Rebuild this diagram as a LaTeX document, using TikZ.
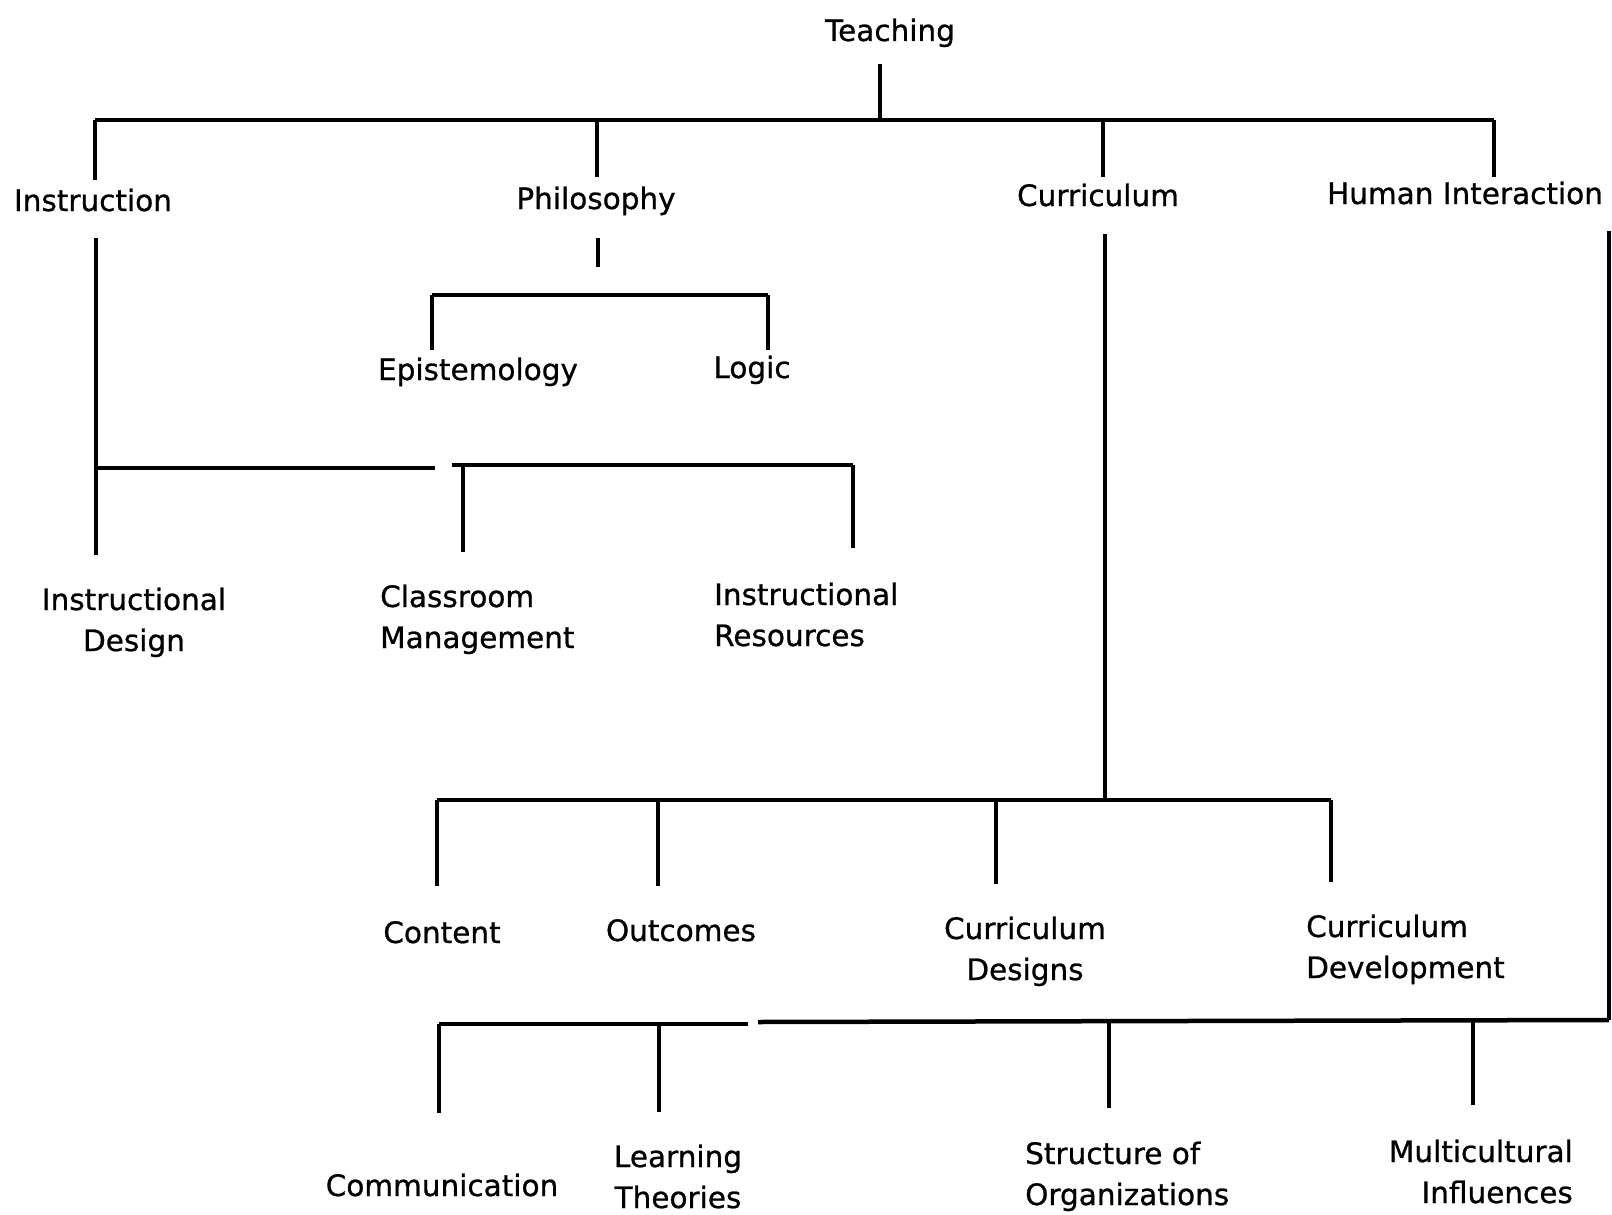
\documentclass[tikz,border=0pt]{standalone}
\usepackage{fontspec}
\setmainfont{DejaVu Sans}
\newfontfamily\lblfont[RawFeature={embolden=0.8}]{DejaVu Sans}
\begin{document}
\begin{tikzpicture}[x=1pt,y=-1pt,
  lbl/.style={inner sep=0pt, font=\lblfont\fontsize{29.5}{41}\selectfont},
  vline/.style={line width=3.2pt},
  hbar/.style={line width=4.5pt}]
\useasboundingbox (0,0) rectangle (1612,1215);
% labels (for two-line labels the base anchor is the last line's baseline)
\node[lbl,anchor=base] (teach) at (890,41) {Teaching};
\node[lbl,anchor=base] (instr) at (93,211) {Instruction};
\node[lbl,anchor=base] (phil) at (596,209) {Philosophy};
\node[lbl,anchor=base] (curr) at (1098,206) {Curriculum};
\node[lbl,anchor=base] (human) at (1465,204) {Human Interaction};
\node[lbl,anchor=base] (epi) at (478,380) {Epistemology};
\node[lbl,anchor=base] (logic) at (752,378) {Logic};
\node[lbl,anchor=base,align=center] (idesign) at (134,651) {Instructional\\Design};
\node[lbl,anchor=base west,align=left] (cman) at (380,648) {Classroom\\Management};
\node[lbl,anchor=base west,align=left] (ires) at (714,646) {Instructional\\Resources};
\node[lbl,anchor=base] (content) at (442,943) {Content};
\node[lbl,anchor=base] (outc) at (681,941) {Outcomes};
\node[lbl,anchor=base,align=center] (cdes) at (1025,980) {Curriculum\\Designs};
\node[lbl,anchor=base west,align=left] (cdev) at (1306,978) {Curriculum\\Development};
\node[lbl,anchor=base] (comm) at (442,1196) {Communication};
\node[lbl,anchor=base,align=center] (learn) at (678,1208) {Learning\\Theories};
\node[lbl,anchor=base west,align=left] (struct) at (1025,1205) {Structure of\\Organizations};
\node[lbl,anchor=base east,align=right] (multi) at (1573,1203) {Multicultural\\Influences};
% connector points
\coordinate (tT) at (880,64);
\coordinate (tB) at (880,120);
\coordinate (barL) at (95,120);
\coordinate (barR) at (1494,120);
\coordinate (iTop) at (95,180);
\coordinate (pTopA) at (597,120);
\coordinate (pTop) at (597,177);
\coordinate (cTopA) at (1103,120);
\coordinate (cTop) at (1103,177);
\coordinate (hTop) at (1494,177);
\coordinate (iS) at (96,238);
\coordinate (iE) at (96,555);
\coordinate (iJ) at (96,468);
\coordinate (iGapL) at (435,468);
\coordinate (iGapR) at (452,465);
\coordinate (cmA) at (463,465);
\coordinate (cmB) at (463,552);
\coordinate (irA) at (853,465);
\coordinate (irB) at (853,548);
\coordinate (pS) at (598,238);
\coordinate (pE) at (598,267);
\coordinate (epA) at (432,295);
\coordinate (epB) at (432,350);
\coordinate (lgA) at (768,295);
\coordinate (lgB) at (768,350);
\coordinate (cS) at (1105,234);
\coordinate (cE) at (1105,800);
\coordinate (coA) at (437,800);
\coordinate (coB) at (437,886);
\coordinate (ouA) at (658,800);
\coordinate (ouB) at (658,886);
\coordinate (cdA) at (996,800);
\coordinate (cdB) at (996,884);
\coordinate (cvA) at (1331,800);
\coordinate (cvB) at (1331,882);
\coordinate (hS) at (1609,231);
\coordinate (hE) at (1609,1020);
\coordinate (hGapR) at (758,1022);
\coordinate (hGapL) at (748,1024);
\coordinate (cmmA) at (439,1024);
\coordinate (cmmB) at (439,1113);
\coordinate (leA) at (659,1024);
\coordinate (leB) at (659,1112);
\coordinate (stA) at (1109,1021);
\coordinate (stB) at (1109,1108);
\coordinate (muA) at (1473,1021);
\coordinate (muB) at (1473,1105);
% top level
\draw[vline] (tT) -- (tB);
\draw[hbar] (barL) -- (barR);
\draw[vline] (barL) -- (iTop);
\draw[vline] (pTopA) -- (pTop);
\draw[vline] (cTopA) -- (cTop);
\draw[vline] (barR) -- (hTop);
% philosophy
\draw[vline] (pS) -- (pE);
\draw[hbar] (epA) -- (lgA);
\draw[vline] (epB) -- (epA);
\draw[vline] (lgA) -- (lgB);
% instruction
\draw[vline] (iS) -- (iE);
\draw[hbar] (iJ) -- (iGapL);
\draw[hbar] (iGapR) -- (irA);
\draw[vline] (cmA) -- (cmB);
\draw[vline] (irA) -- (irB);
% curriculum
\draw[vline] (cS) -- (cE);
\draw[hbar] (coA) -- (cvA);
\draw[vline] (coA) -- (coB);
\draw[vline] (ouA) -- (ouB);
\draw[vline] (cdA) -- (cdB);
\draw[vline] (cvA) -- (cvB);
% human interaction
\draw[vline] (hS) -- (hE);
\draw[hbar] (hE) -- (hGapR);
\draw[hbar] (hGapL) -- (cmmA);
\draw[vline] (cmmA) -- (cmmB);
\draw[vline] (leA) -- (leB);
\draw[vline] (stA) -- (stB);
\draw[vline] (muA) -- (muB);
\end{tikzpicture}
\end{document}
